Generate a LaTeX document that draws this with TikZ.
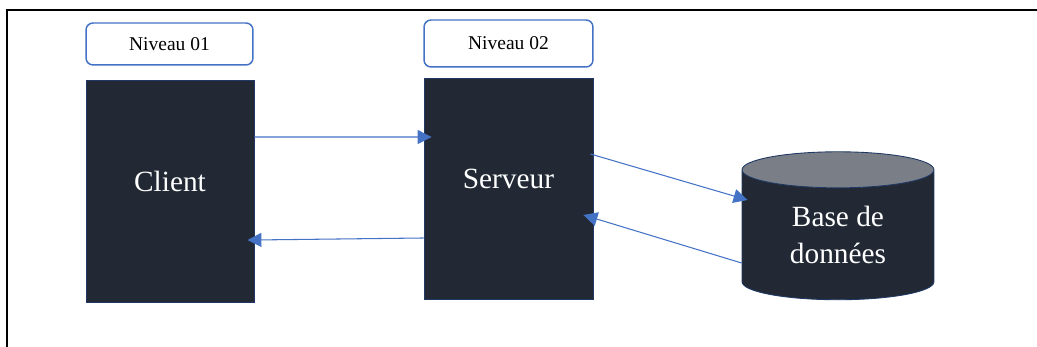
\documentclass[tikz,border=0pt]{standalone}
\usepackage{fontspec}
\setmainfont{Liberation Serif}
\usetikzlibrary{arrows.meta, positioning, shapes.geometric}

\definecolor{fond}{RGB}{34,41,53}
\definecolor{bord}{RGB}{31,56,100}
\definecolor{bleu}{RGB}{68,114,196}
\definecolor{gris}{RGB}{122,127,135}

\newcommand{\monte}[1]{\raisebox{0.19cm}[\height][\depth]{#1}}

\tikzset{
    niveau/.style={draw=bleu, line width=0.85pt, rounded corners=4pt, fill=white, inner sep=0pt, font=\fontsize{11.1}{13}\selectfont},
    bloc/.style={draw=bord, line width=0.5pt, fill=fond, text=white, inner sep=0pt, font=\fontsize{16.7}{21.5}\selectfont},
    fleche/.style={bleu, line width=0.6pt, -{Triangle[length=0.28cm, width=0.28cm]}}
}

\begin{document}
\begin{tikzpicture}[x=0.02cm, y=-0.02cm]
            \useasboundingbox (0,0) rectangle (1037,347);
            \draw       [black, line width=1.7pt]   (7,347) -- (7,10) -- (1037,10);      % frame

            \node [niveau, minimum width=3.34cm, minimum height=0.84cm] (niv1) at (169.5,44)  {Niveau 01};
            \node [niveau, minimum width=3.38cm, minimum height=0.94cm] (niv2) at (508.5,43.5) {Niveau 02};

            \node [bloc, minimum width=3.36cm, minimum height=4.44cm]   (client)  at (170,191)   {\monte{Client}};
            \node [bloc, minimum width=3.38cm, minimum height=4.42cm]   (serveur) at (508.5,188.5) {\monte{Serveur}};

            \node [bloc, fill=none, cylinder, shape border rotate=90, aspect=0.375, align=center,
                   cylinder uses custom fill, cylinder body fill=fond, cylinder end fill=gris,
                   minimum width=3.84cm, minimum height=2.96cm]     (bdd)     at (838,235)   {Base de\\données};

            \draw       [fleche, shorten >=-0.16cm]  ([yshift=1.08cm]client.east)   -- ([yshift=1.03cm]serveur.west);   % requete
            \draw       [fleche, shorten >=-0.14cm]  ([yshift=-0.99cm]serveur.west) -- ([yshift=-0.98cm]client.east);  % reponse
            \draw       [fleche]  ([xshift=-0.06cm, yshift=0.69cm]serveur.east) -- ([xshift=0.12cm, yshift=0.70cm]bdd.west);   % vers bdd
            \draw       [fleche]  ([yshift=-0.56cm]bdd.west) -- ([xshift=-0.2cm, yshift=-0.53cm]serveur.east);              % retour bdd
        \end{tikzpicture}
\end{document}
